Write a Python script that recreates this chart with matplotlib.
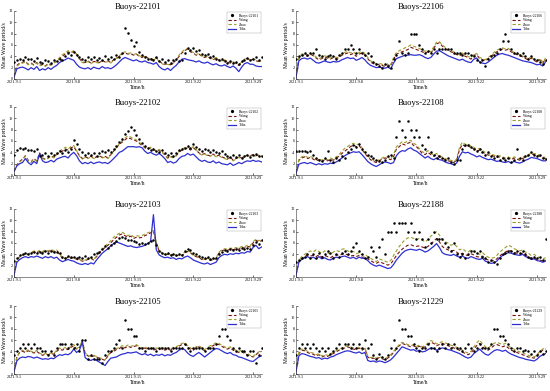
import numpy as np
import matplotlib
matplotlib.use("Agg")
import matplotlib.pyplot as plt

plt.rcParams['font.family'] = ['Liberation Serif', 'DejaVu Serif']

# 8-hourly samples, 2021.9.1 00:00 -> 2021.9.30 00:00
tick_days = [0, 7, 14, 21, 28]
tick_labels = ['2021.9.1', '2021.9.8', '2021.9.15', '2021.9.22', '2021.9.29']

# ---- Buoys-22101
obs_22101 = [3.0,3.4,3.6, 3.3,3.8,3.5, 3.6,3.2,3.7, 3.0,2.8,3.3, 3.1,2.9,3.4, 3.2,3.6,3.3,
             4.0,4.6,4.3, 4.8,4.2,3.8, 3.6,3.4,3.9, 3.5,3.8,3.3, 3.7,3.4,4.0, 3.6,3.9,3.5,
             4.2,3.8,4.6, 9.0,8.2,6.8, 5.8,6.6,4.8, 4.2,3.8,3.5, 3.6,3.3,3.8, 3.2,3.5,3.0,
             3.4,2.9,3.3, 3.6,3.1,3.4, 4.6,5.4,5.2, 5.4,4.9,5.2, 4.5,4.2,4.4, 3.8,4.1,3.6,
             3.3,3.6,3.1, 2.9,3.2,2.8, 3.0,2.7,3.2, 3.4,3.7,3.3, 3.6,3.9,3.4, 3.8]
wang_22101 = [0.5,2.4,2.8, 2.9,3.1,2.6, 2.8,2.5,2.9, 2.4,2.6,2.3, 2.7,2.5,2.9, 3.1,3.6,4.0,
              4.4,4.8,4.6, 4.9,4.3,3.6, 3.0,2.9,3.2, 2.8,3.1,3.0, 2.9,3.3,3.0, 3.2,2.9,3.4,
              3.6,4.0,4.4, 4.6,4.4,4.5, 4.2,4.4,4.0, 3.8,4.1,3.7, 3.6,3.4,3.8, 3.2,2.8,2.6,
              2.7,2.5,2.9, 3.3,4.0,4.6, 5.0,5.3,4.8, 4.6,4.2,4.4, 4.0,3.8,4.0, 3.6,3.4,3.7,
              3.3,3.1,3.3, 3.0,2.8,3.0, 2.7,2.4,2.9, 3.4,3.6,3.3, 3.5,3.2,3.1, 3.0]
zhao_22101 = [0.4,2.2,2.7, 2.8,3.0,2.5, 2.7,2.4,2.8, 2.3,2.5,2.2, 2.6,2.4,2.8, 3.2,3.8,4.3,
              4.6,5.0,4.7, 5.0,4.4,3.5, 2.9,2.8,3.1, 2.7,3.0,2.9, 2.8,3.2,2.9, 3.1,2.8,3.3,
              3.7,4.1,4.6, 4.8,4.5,4.6, 4.3,4.5,4.1, 3.9,4.0,3.6, 3.5,3.3,3.7, 3.1,2.7,2.5,
              2.6,2.4,2.8, 3.4,4.2,4.8, 5.2,5.4,4.9, 4.7,4.3,4.5, 4.1,3.9,4.1, 3.7,3.5,3.8,
              3.4,3.2,3.4, 3.1,2.9,3.1, 2.8,2.5,3.0, 3.5,3.7,3.4, 3.6,3.3,3.2, 3.1]
toba_22101 = [0.3,1.8,2.0, 2.1,1.9,1.6, 2.0,1.7,2.2, 1.5,1.8,1.6, 2.0,1.7,2.1, 2.4,2.9,3.2,
              3.4,3.7,3.5, 3.3,2.6,2.1, 1.9,1.8,2.0, 1.7,2.1,1.9, 1.8,2.2,1.9, 2.0,1.8,2.1,
              2.5,3.0,3.5, 3.8,3.6,3.4, 3.2,3.4,3.1, 3.0,3.2,2.9, 2.8,2.6,2.9, 2.2,1.8,1.6,
              1.9,1.5,2.0, 2.4,3.0,3.5, 3.6,3.4,3.3, 3.2,3.0,3.2, 2.9,2.8,3.0, 2.7,2.5,2.7,
              2.4,2.3,2.5, 2.2,2.0,2.3, 1.9,1.3,2.1, 2.7,2.9,2.6, 2.6,2.3,2.2, 2.2]

# ---- Buoys-22102
obs_22102 = [3.6,4.5,4.8, 4.6,4.8,4.4, 4.5,4.3,4.6, 3.3,3.6,3.8, 3.4,3.9,3.5, 3.8,4.2,3.9,
             4.4,4.0,4.6, 6.2,5.4,4.6, 4.0,3.6,3.9, 3.5,3.8,3.4, 3.9,4.3,4.0, 4.4,4.1,4.6,
             5.2,5.8,6.4, 7.2,7.8,8.4, 8.0,7.0,6.4, 5.6,5.2,4.8, 4.4,4.6,4.2, 4.0,4.4,3.8,
             3.6,3.9,3.4, 3.8,4.4,4.6, 4.8,5.2,4.7, 5.5,5.0,4.6, 4.2,4.6,4.4, 4.0,4.4,4.1,
             3.8,4.2,3.7, 3.4,3.1,3.6, 3.2,3.5,3.0, 3.3,3.6,3.2, 3.5,3.7,3.4, 3.3]
wang_22102 = [0.7,1.8,2.4, 2.8,3.4,2.6, 2.3,2.9,2.5, 3.9,3.0,2.8, 3.0,3.4,3.1, 3.6,4.0,4.2,
              4.6,4.4,4.8, 5.0,4.2,3.4, 2.9,3.2,3.0, 3.3,3.0,3.2, 3.4,3.1,3.3, 3.0,3.6,4.2,
              4.8,5.4,5.8, 6.2,6.6,6.4, 6.2,6.0,5.6, 5.2,4.8,4.6, 4.8,4.5,4.2, 4.4,4.0,3.6,
              3.0,3.3,3.1, 3.4,4.0,4.4, 4.6,4.8,4.4, 4.8,4.4,3.9, 3.6,3.8,3.5, 3.4,3.7,3.3,
              3.5,3.2,3.0, 2.8,3.2,2.6, 2.9,3.2,3.0, 3.3,3.5,3.4, 3.6,3.4,3.5, 3.3]
zhao_22102 = [0.6,1.7,2.3, 2.7,3.3,2.5, 2.2,2.8,2.4, 3.8,2.9,2.7, 2.9,3.3,3.0, 3.8,4.3,4.5,
              4.9,4.6,5.0, 5.2,4.3,3.3, 2.8,3.1,2.9, 3.2,2.9,3.1, 3.3,3.0,3.2, 2.9,3.5,4.1,
              4.9,5.5,6.0, 6.5,6.9,6.7, 6.4,6.2,5.8, 5.3,4.9,4.7, 4.9,4.6,4.3, 4.5,4.1,3.5,
              2.9,3.2,3.0, 3.5,4.2,4.6, 4.8,5.0,4.6, 5.0,4.5,3.8, 3.5,3.7,3.4, 3.3,3.6,3.2,
              3.4,3.1,2.9, 2.7,3.1,2.5, 2.8,3.1,2.9, 3.2,3.4,3.3, 3.5,3.3,3.4, 3.2]
toba_22102 = [0.6,1.6,2.0, 2.2,2.9,2.2, 1.8,2.4,2.0, 3.8,2.5,2.2, 2.3,2.6,2.3, 2.8,3.0,3.2,
              3.3,3.0,3.6, 4.0,3.4,2.5, 2.0,2.2,2.0, 2.3,2.0,2.2, 2.3,2.1,2.2, 2.0,2.4,2.9,
              3.4,4.0,4.2, 4.6,5.0,5.0, 5.0,4.9,5.0, 4.8,4.2,3.8, 4.0,3.7,3.5, 3.8,3.4,2.9,
              2.2,2.4,2.1, 2.3,2.9,3.3, 3.4,3.8,3.5, 3.7,3.2,2.7, 2.4,2.6,2.3, 2.2,2.5,2.1,
              2.3,2.0,1.9, 1.8,2.1,1.7, 1.9,2.2,2.0, 2.3,2.5,2.4, 2.6,2.4,2.5, 2.3]

# ---- Buoys-22103
obs_22103 = [2.9,3.3,3.8, 4.0,4.3,4.1, 4.3,4.5,4.2, 4.4,4.2,4.6, 4.3,4.6,4.4, 4.5,4.2,3.6,
             3.4,3.7,3.5, 3.6,3.3,3.5, 3.4,3.7,3.3, 3.6,4.0,4.3, 4.5,5.0,5.4, 5.2,5.6,6.0,
             6.4,6.9,7.1, 6.8,6.5,6.6, 6.3,6.1,5.9, 6.0,5.8,6.0, 6.3,6.6,5.6, 4.6,4.3,4.0,
             4.2,3.9,4.1, 3.8,4.1,3.9, 4.6,5.0,4.7, 4.2,4.0,3.7, 3.5,3.3,3.6, 3.2,3.4,3.3,
             4.0,4.5,4.7, 4.6,4.9,4.7, 5.0,4.8,5.1, 4.9,5.2,5.0, 5.6,6.2,5.8, 6.6]
wang_22103 = [0.3,3.0,3.6, 3.9,4.1,4.0, 4.2,4.4,4.3, 4.5,4.3,4.6, 4.5,4.7,4.4, 4.6,4.0,3.3,
              3.2,3.5,3.3, 3.4,3.1,3.0, 2.8,2.9,3.1, 3.3,3.0,3.6, 4.2,4.8,5.2, 5.6,6.0,6.6,
              7.0,7.4,7.6, 7.3,7.0,7.2, 6.8,7.0,6.9, 7.0,7.3,7.5, 7.8,8.1,6.0, 4.6,4.2,3.9,
              4.0,3.8,4.0, 3.7,3.9,3.8, 4.2,4.5,4.3, 3.8,3.6,3.4, 3.1,3.0,3.3, 2.9,3.1,3.2,
              4.2,4.6,4.8, 4.7,4.9,4.8, 5.0,4.9,5.2, 5.1,5.4,5.3, 6.0,6.5,6.2, 6.4]
zhao_22103 = [0.3,2.9,3.5, 3.8,4.2,4.1, 4.4,4.6,4.4, 4.7,4.5,4.8, 4.6,4.9,4.6, 4.8,4.1,3.4,
              3.3,3.6,3.4, 3.5,3.2,3.1, 2.9,3.0,3.2, 3.4,3.1,3.7, 4.4,5.0,5.5, 5.9,6.4,7.0,
              7.4,7.7,7.9, 7.6,7.3,7.5, 7.1,7.3,7.2, 7.3,7.6,7.8, 8.0,8.2,6.2, 4.7,4.3,4.0,
              4.1,3.9,4.1, 3.8,4.0,3.9, 4.4,4.7,4.4, 3.9,3.7,3.5, 3.2,3.1,3.4, 3.0,3.2,3.3,
              4.4,4.8,5.0, 4.9,5.1,5.0, 5.2,5.1,5.4, 5.3,5.6,5.5, 6.2,6.7,6.4, 6.6]
toba_22103 = [0.3,2.6,3.1, 3.4,3.6,3.4, 3.6,3.5,3.7, 3.5,3.3,3.6, 3.4,3.6,3.3, 3.5,3.0,2.7,
              2.9,3.1,2.9, 2.8,2.5,2.3, 2.2,2.4,2.2, 2.5,2.3,3.0, 3.6,4.2,4.6, 5.0,5.5,5.9,
              6.2,6.0,5.8, 5.6,5.4,5.5, 5.3,5.2,5.3, 5.4,5.6,5.9, 6.3,11.0,4.8, 3.9,3.6,3.4,
              3.5,3.3,3.4, 3.1,3.3,3.2, 3.5,3.7,3.4, 3.0,2.8,2.6, 2.4,2.3,2.5, 2.2,2.4,2.6,
              3.4,3.8,4.0, 3.9,4.1,4.0, 4.2,4.1,4.3, 4.2,4.5,4.4, 5.2,5.6,5.0, 5.3]

# ---- Buoys-22105
obs_22105 = [3.3,4.0,4.6, 5.3,4.6,5.3, 4.6,5.3,4.6, 4.6,4.0,4.0, 3.3,4.0,3.3, 4.6,5.3,5.3,
             5.3,4.6,5.3, 4.6,5.3,4.0, 6.0,6.0,2.7, 3.3,2.7,2.7, 2.7,2.0,3.3, 4.0,4.0,4.6,
             5.3,6.0,4.6, 9.5,8.0,8.0, 6.7,6.7,4.6, 4.6,4.0,4.6, 4.6,4.6,4.0, 4.6,4.6,4.6,
             4.6,4.0,4.6, 4.6,4.6,4.6, 5.3,4.6,4.0, 4.6,4.6,4.6, 4.6,4.0,4.6, 4.6,4.6,5.3,
             6.7,8.0,8.0, 6.7,6.0,4.6, 4.0,4.6,4.0, 4.0,3.3,4.0, 4.0,2.0,3.3, 4.6]
wang_22105 = [0.5,3.0,3.8, 4.0,3.8,4.1, 3.9,3.7,4.0, 3.6,3.3,3.5, 3.4,3.6,3.5, 4.0,4.4,4.2,
              4.5,4.3,4.7, 5.0,4.4,4.6, 5.8,3.6,3.2, 3.0,3.2,3.0, 2.8,2.6,2.4, 3.2,3.8,4.0,
              4.3,4.5,4.8, 4.6,4.9,4.7, 4.8,5.0,4.6, 4.4,4.6,4.3, 4.5,4.2,4.4, 4.3,4.5,4.2,
              4.4,4.2,4.5, 4.6,4.9,5.2, 5.3,4.8,4.4, 4.2,4.6,4.8, 4.4,4.1,4.5, 4.8,5.0,5.3,
              5.2,4.9,4.6, 4.4,4.6,4.2, 4.0,3.8,4.0, 3.6,3.4,3.2, 3.0,3.4,3.8, 4.0]
zhao_22105 = [0.4,2.9,3.9, 4.2,3.9,4.3, 4.0,3.8,4.2, 3.7,3.4,3.6, 3.5,3.7,3.6, 4.2,4.6,4.4,
              4.7,4.5,4.9, 5.2,4.5,4.8, 5.9,3.7,3.3, 3.1,3.3,3.1, 2.9,2.7,2.5, 3.3,3.9,4.2,
              4.5,4.7,5.0, 4.8,5.1,4.9, 5.0,5.2,4.8, 4.6,4.8,4.5, 4.7,4.4,4.6, 4.5,4.7,4.4,
              4.6,4.4,4.7, 4.8,5.1,5.4, 5.5,5.0,4.6, 4.4,4.8,5.0, 4.6,4.3,4.7, 5.0,5.2,5.5,
              5.4,5.1,4.8, 4.6,4.8,4.4, 4.2,4.0,4.2, 3.8,3.6,3.3, 3.1,3.5,3.9, 4.1]
toba_22105 = [0.4,2.3,2.8, 3.0,2.9,3.1, 3.0,2.8,3.0, 2.8,2.6,2.7, 2.6,2.8,2.7, 3.1,3.4,3.3,
              3.5,3.4,3.7, 4.4,3.8,4.2, 5.6,2.9,2.5, 2.4,2.6,2.4, 2.1,1.8,1.5, 2.2,2.8,2.9,
              3.0,3.3,3.5, 3.6,3.8,3.7, 3.8,3.9,3.6, 3.4,3.6,3.3, 3.5,3.2,3.4, 3.3,3.5,3.2,
              3.4,3.3,3.6, 3.8,4.2,4.5, 4.3,3.7,3.3, 3.1,3.5,3.8, 3.4,3.0,3.4, 3.8,4.2,4.5,
              4.4,4.1,3.8, 3.6,3.8,3.4, 3.3,3.0,2.9, 2.7,2.5,2.3, 2.2,2.6,3.0, 3.2]

# ---- Buoys-22106
obs_22106 = [3.6,4.0,4.3, 4.6,4.3,4.6, 4.6,5.3,4.3, 4.0,3.6,4.0, 4.3,4.0,3.6, 4.3,4.6,5.3,
             5.3,6.0,5.3, 4.6,5.3,4.6, 4.3,4.6,4.0, 3.0,2.7,2.3, 2.0,2.7,2.3, 2.0,3.6,4.3,
             6.7,4.6,4.3, 4.6,8.0,8.0, 8.0,6.0,5.3, 4.6,5.0,4.6, 5.3,4.6,5.3, 5.3,5.3,5.3,
             5.3,4.6,4.6, 4.6,4.3,4.6, 4.6,4.3,4.0, 3.3,3.0,3.3, 2.3,3.6,4.0, 4.3,4.6,5.3,
             6.7,8.0,6.7, 5.3,4.6,4.6, 4.3,4.6,4.0, 3.6,4.0,3.6, 3.3,3.0,2.7, 3.3]
wang_22106 = [0.4,3.6,4.2, 4.3,4.0,4.4, 4.1,3.7,3.4, 3.6,3.9,3.7, 3.5,3.8,3.6, 3.8,4.2,4.4,
              4.6,4.3,4.5, 4.0,4.4,4.6, 4.2,3.6,3.0, 2.7,2.5,2.6, 2.4,2.2,2.5, 2.3,3.5,4.4,
              4.6,4.8,5.0, 5.2,5.6,5.4, 5.2,5.0,4.8, 4.6,4.8,4.5, 5.4,6.2,6.4, 5.8,5.4,5.0,
              4.8,4.6,4.3, 4.1,4.4,4.0, 3.8,3.5,4.2, 4.3,3.6,3.4, 3.2,3.6,4.0, 4.4,4.8,5.0,
              5.3,5.1,5.2, 4.8,4.5,4.3, 4.1,3.9,3.6, 3.4,3.7,3.3, 3.0,3.4,2.8, 3.5]
zhao_22106 = [0.4,3.8,4.4, 4.5,4.2,4.6, 4.3,3.9,3.6, 3.8,4.1,3.9, 3.7,4.0,3.8, 4.0,4.5,4.7,
              4.9,4.6,4.8, 4.3,4.7,4.9, 4.5,3.8,3.2, 2.9,2.7,2.8, 2.6,2.4,2.7, 2.5,3.8,4.7,
              5.0,5.2,5.5, 5.7,6.0,5.8, 5.6,5.4,5.1, 4.9,5.1,4.8, 5.7,6.5,6.6, 6.0,5.6,5.2,
              5.0,4.8,4.5, 4.3,4.6,4.2, 4.0,3.7,4.4, 4.5,3.8,3.6, 3.4,3.8,4.2, 4.7,5.1,5.3,
              5.5,5.3,5.4, 5.0,4.7,4.5, 4.3,4.1,3.8, 3.6,3.9,3.5, 3.2,3.6,3.0, 3.7]
toba_22106 = [0.3,3.2,3.6, 3.7,3.5,3.7, 3.3,2.9,2.8, 3.0,3.2,3.0, 2.9,3.1,3.0, 3.1,3.4,3.6,
              3.8,3.6,3.7, 3.3,3.5,3.8, 3.4,2.8,2.4, 2.2,2.0,2.1, 2.0,1.9,2.1, 1.8,2.8,3.6,
              3.8,4.0,4.2, 4.2,4.3,4.2, 4.2,4.3,4.1, 3.8,3.6,3.8, 4.4,4.9,5.0, 4.7,4.4,4.1,
              3.9,3.7,3.5, 3.3,3.5,3.2, 3.0,2.9,3.5, 3.7,3.0,2.8, 2.7,3.0,3.4, 3.8,4.2,4.4,
              4.5,4.3,4.2, 4.0,3.8,3.6, 3.4,3.2,3.1, 3.0,2.9,2.7, 2.5,2.6,2.3, 3.0]

# ---- Buoys-22108
obs_22108 = [4.3,4.3,4.3, 4.3,4.0,4.3, 3.6,3.0,2.7, 2.5,3.0,4.3, 2.7,2.3,3.0, 2.7,3.3,3.0,
             4.0,4.6,5.3, 5.0,5.5,4.6, 4.0,3.6,3.3, 3.0,2.7,2.5, 2.3,2.7,3.3, 3.6,3.0,6.7,
             9.5,8.0,6.7, 9.5,8.0,6.7, 8.0,6.7,5.3, 4.6,6.7,4.0, 3.6,3.0,3.3, 3.0,2.7,3.0,
             2.3,2.0,2.7, 2.7,4.6,5.3, 5.3,5.0,4.6, 4.3,4.6,4.0, 3.6,4.0,3.3, 3.0,3.3,2.7,
             3.0,2.7,3.0, 2.3,2.7,4.6, 3.0,2.7,3.3, 3.6,4.0,3.6, 3.3,3.6,3.0, 2.8]
wang_22108 = [0.4,2.6,3.0, 3.2,2.9,3.1, 2.8,2.5,2.7, 2.4,2.7,2.5, 2.8,2.6,3.0, 3.3,3.8,4.2,
              4.6,5.0,5.3, 5.0,5.2,4.5, 3.8,3.2,2.7, 2.4,2.2,2.5, 2.8,3.0,2.9, 2.7,3.2,4.6,
              5.0,5.5,5.3, 5.6,5.8,5.2, 5.0,4.4,3.8, 3.6,4.0,3.6, 3.3,3.6,3.2, 3.0,2.7,2.5,
              2.4,2.2,2.6, 4.5,5.4,5.0, 5.2,4.8,4.6, 4.2,4.4,4.0, 3.8,3.5,3.6, 3.3,3.1,3.2,
              3.0,2.8,3.0, 2.7,3.0,2.8, 2.6,2.9,3.2, 3.4,3.7,3.6, 3.5,3.3,3.0, 2.9]
zhao_22108 = [0.3,2.8,3.2, 3.4,3.1,3.3, 3.0,2.7,2.9, 2.6,2.9,2.7, 3.0,2.8,3.2, 3.6,4.2,4.7,
              5.0,5.4,5.6, 5.3,5.5,4.8, 4.0,3.4,2.9, 2.6,2.4,2.7, 3.0,3.2,3.1, 2.9,3.5,5.0,
              5.4,5.9,5.7, 6.0,6.1,5.6, 5.3,4.7,4.1, 3.9,4.3,3.9, 3.5,3.8,3.4, 3.2,2.9,2.7,
              2.6,2.4,2.8, 4.9,5.8,5.4, 5.5,5.1,4.9, 4.5,4.7,4.3, 4.0,3.7,3.8, 3.5,3.3,3.4,
              3.2,3.0,3.2, 2.9,3.2,3.0, 2.8,3.1,3.4, 3.6,3.9,3.8, 3.7,3.5,3.2, 3.1]
toba_22108 = [0.3,1.9,2.1, 2.2,2.0,2.2, 2.0,1.8,2.0, 1.8,2.0,1.9, 2.1,2.0,2.3, 2.6,3.0,3.4,
              3.7,3.9,4.1, 4.0,4.1,3.6, 3.0,2.4,2.0, 1.7,1.5,1.8, 2.1,2.3,2.2, 2.0,2.2,3.4,
              4.0,4.3,4.2, 4.6,4.8,4.4, 4.2,3.8,3.4, 3.0,3.3,2.9, 2.7,3.0,2.7, 2.6,2.3,2.1,
              2.0,1.8,2.1, 3.3,4.1,3.9, 4.0,3.7,3.5, 3.2,3.4,3.1, 2.9,2.7,2.8, 2.6,2.4,2.5,
              2.3,2.2,2.4, 2.1,2.4,2.2, 2.1,2.3,2.6, 2.8,3.1,3.0, 2.9,2.7,2.5, 2.5]

# ---- Buoys-22188
obs_22188 = [2.7,3.0,3.3, 3.6,4.0,3.3, 4.0,3.3,4.3, 3.6,4.0,4.6, 4.3,3.3,4.0, 3.6,4.3,4.6,
             4.0,4.6,5.3, 6.0,4.6,4.0, 3.3,3.6,5.3, 4.6,3.6,5.3, 6.7,4.0,8.0, 8.0,9.5,8.0,
             9.5,9.5,9.5, 8.0,9.5,8.0, 6.7,8.0,6.7, 5.3,6.7,6.0, 8.0,6.7,6.7, 6.7,6.0,5.3,
             4.6,6.0,4.0, 3.6,4.0,3.3, 4.0,4.6,4.6, 4.3,4.6,3.6, 3.3,2.7,3.0, 2.7,2.3,3.3,
             4.0,4.3,4.6, 4.6,4.3,4.6, 4.3,4.6,4.0, 3.6,3.3,3.6, 3.3,3.6,3.0, 6.7]
wang_22188 = [0.4,2.8,3.3, 3.6,3.9,3.7, 3.8,3.6,3.9, 3.5,3.8,3.6, 3.4,3.7,3.9, 3.8,4.0,4.1,
              3.9,3.7,3.8, 3.6,3.8,3.5, 3.5,3.2,2.9, 2.6,2.4,2.7, 2.5,2.3,2.1, 2.3,3.0,3.8,
              4.4,4.9,5.3, 5.6,5.7,5.5, 5.4,5.5,5.3, 5.1,5.4,5.8, 6.3,6.8,6.2, 5.4,5.0,4.8,
              4.6,4.7,4.4, 4.0,4.2,3.9, 3.8,4.1,3.9, 3.6,3.5,3.7, 3.2,3.0,2.8, 2.9,3.2,3.7,
              4.1,4.4,4.7, 4.6,4.3,4.2, 4.0,4.2,3.8, 3.6,3.3,3.4, 3.1,3.0,2.8, 3.0]
zhao_22188 = [0.4,3.0,3.6, 4.0,4.3,4.6, 4.4,4.8,4.5, 4.2,4.6,4.3, 4.0,4.4,4.7, 4.5,4.9,5.0,
              4.6,4.4,4.5, 4.1,4.3,3.9, 4.0,3.6,3.3, 3.0,2.7,3.2, 3.0,2.8,2.6, 2.9,3.8,4.6,
              5.4,6.0,6.6, 6.9,7.0,6.8, 6.6,6.8,6.5, 6.2,6.6,7.2, 7.6,8.0,7.4, 6.6,6.2,6.0,
              5.6,5.8,5.4, 4.8,5.0,4.6, 4.4,4.8,4.5, 4.2,4.0,4.3, 3.8,3.5,3.3, 3.4,3.8,4.4,
              4.8,5.2,5.6, 5.4,5.0,4.8, 4.6,4.8,4.4, 4.2,3.8,4.0, 3.6,3.4,3.2, 3.4]
toba_22188 = [0.3,2.6,3.1, 3.4,3.6,3.3, 3.5,3.2,3.6, 3.2,3.4,3.1, 3.0,3.3,3.5, 3.4,3.6,3.7,
              3.5,3.3,3.5, 3.2,3.5,3.3, 3.3,2.9,2.4, 2.1,1.9,2.1, 1.9,1.7,1.5, 1.6,2.2,3.0,
              3.6,4.2,4.6, 4.8,4.9,4.8, 4.7,4.9,4.7, 4.4,4.6,5.0, 5.4,5.9,5.2, 4.3,4.0,3.9,
              3.8,4.0,3.7, 3.5,3.7,3.4, 3.3,3.6,3.4, 3.2,3.1,3.3, 2.8,2.6,2.4, 2.5,2.8,3.4,
              3.8,4.1,4.3, 4.2,4.0,3.9, 3.8,4.0,3.6, 3.4,3.1,3.2, 2.9,2.8,2.6, 2.8]

# ---- Buoys-21229
obs_21229 = [3.3,4.6,5.3, 4.6,5.3,4.6, 5.3,4.6,4.0, 4.6,4.0,4.6, 3.6,4.0,4.6, 5.3,4.6,5.3,
             5.3,4.6,5.3, 4.6,5.3,4.6, 6.0,4.6,5.3, 3.3,2.7,3.6, 3.0,2.7,3.3, 4.6,6.0,4.6,
             9.5,8.0,8.0, 6.7,6.7,5.3, 4.6,4.0,4.6, 4.6,5.3,4.6, 4.6,4.0,4.6, 5.3,4.6,5.3,
             4.6,5.3,4.6, 4.6,4.0,4.6, 5.3,4.6,4.0, 4.6,5.3,4.6, 4.6,4.6,5.3, 8.0,8.0,6.7,
             6.7,6.0,5.3, 4.6,4.0,4.6, 4.6,4.0,4.3, 4.0,3.6,4.0, 3.3,4.0,3.6, 4.0]
wang_21229 = [0.5,3.6,4.2, 4.1,3.8,3.6, 3.5,3.2,3.4, 3.0,3.2,3.1, 3.4,3.6,3.9, 4.2,4.4,4.6,
              4.8,4.6,4.4, 4.3,4.6,4.2, 4.5,3.0,2.7, 2.8,2.6,2.9, 2.7,2.5,2.8, 3.2,3.8,4.4,
              5.0,5.4,5.2, 5.0,4.8,5.0, 4.7,4.9,4.6, 4.8,5.2,5.6, 5.4,5.0,5.2, 5.4,5.2,5.0,
              4.8,4.6,4.4, 4.2,3.9,3.6, 3.4,3.7,4.4, 5.0,5.4,4.8, 4.4,4.2,4.6, 5.0,5.2,5.0,
              4.8,5.0,4.6, 4.2,4.0,3.8, 3.6,3.4,3.2, 3.0,2.9,2.8, 3.2,3.8,4.2, 4.4]
zhao_21229 = [0.4,3.8,4.4, 4.3,4.0,3.8, 3.7,3.4,3.6, 3.2,3.4,3.3, 3.6,3.8,4.1, 4.4,4.6,4.8,
              5.0,4.8,4.6, 4.5,4.8,4.4, 4.7,3.2,2.9, 3.0,2.8,3.1, 2.9,2.7,3.0, 3.4,4.0,4.6,
              5.2,5.6,5.4, 5.2,5.0,5.2, 4.9,5.1,4.8, 5.0,5.5,5.9, 5.7,5.3,5.5, 5.7,5.5,5.3,
              5.1,4.9,4.7, 4.5,4.2,3.9, 3.7,4.0,4.8, 5.5,6.0,5.3, 4.8,4.6,5.0, 5.4,5.6,5.4,
              5.2,5.4,5.0, 4.6,4.4,4.1, 3.9,3.7,3.5, 3.3,3.1,3.0, 3.4,4.0,4.4, 4.6]
toba_21229 = [0.4,3.2,3.6, 3.5,3.3,3.1, 3.0,2.8,2.9, 2.6,2.8,2.7, 3.0,3.1,3.4, 3.6,3.8,4.0,
              4.1,4.0,3.8, 3.7,3.9,3.6, 3.8,2.4,2.2, 2.3,2.1,2.3, 2.2,2.0,2.2, 2.5,3.0,3.6,
              4.2,4.8,4.6, 4.4,4.2,4.3, 4.0,4.2,3.9, 4.0,4.3,4.6, 4.5,4.2,4.4, 4.6,4.5,4.3,
              4.2,4.0,3.8, 3.6,3.3,3.0, 2.8,3.0,3.6, 4.0,4.4,3.9, 3.5,3.3,3.7, 4.1,4.3,4.2,
              4.0,4.2,3.8, 3.5,3.3,3.1, 2.9,2.8,2.6, 2.5,2.4,2.3, 2.6,3.1,3.4, 3.6]

# column-major order: left column top->bottom, right column top->bottom
panels = [
    ('22101', obs_22101, wang_22101, zhao_22101, toba_22101),
    ('22102', obs_22102, wang_22102, zhao_22102, toba_22102),
    ('22103', obs_22103, wang_22103, zhao_22103, toba_22103),
    ('22105', obs_22105, wang_22105, zhao_22105, toba_22105),
    ('22106', obs_22106, wang_22106, zhao_22106, toba_22106),
    ('22108', obs_22108, wang_22108, zhao_22108, toba_22108),
    ('22188', obs_22188, wang_22188, zhao_22188, toba_22188),
    ('21229', obs_21229, wang_21229, zhao_21229, toba_21229),
]

fig = plt.figure(figsize=(5.5, 3.91), dpi=100)

col_left = [14/550, 296/550]
col_width = [248/550, 250/550]
row_bottom_px = [79, 175, 277, 374]
ax_h = 68/391

for k, (name, obs, wang, zhao, toba) in enumerate(panels):
    col, row = divmod(k, 4)
    ax = fig.add_axes([col_left[col], 1 - row_bottom_px[row]/391, col_width[col], ax_h])
    t = np.arange(len(obs)) / 3.0

    ax.plot(t, obs, 'o', color='black', ms=1.8, mew=0, zorder=4, label='Buoys-' + name)
    ax.plot(t, wang, '--', color='#7a1010', lw=0.8, dashes=(3, 2), label='Wang')
    ax.plot(t, zhao, '--', color='#9c9c2a', lw=0.8, dashes=(3, 2), label='Zhao')
    ax.plot(t, toba, '-', color='#2f2fd0', lw=0.9, label='Toba')

    ax.set_xlim(0, 29.05)
    ax.set_ylim(0, 12)
    ax.set_yticks(range(0, 13, 2))
    ax.set_xticks(tick_days)
    ax.set_xticklabels(tick_labels)
    ax.tick_params(labelsize=3.1, length=1.5, width=0.4, direction='in', pad=1)
    for s in ['top', 'right']:
        ax.spines[s].set_visible(False)
    for s in ['left', 'bottom']:
        ax.spines[s].set_linewidth(0.4)
        ax.spines[s].set_color('#333333')

    ax.set_title('Buoys-' + name, fontsize=6.2, pad=1.5)
    ax.set_ylabel('Mean Wave period/s', fontsize=4.0, labelpad=1)
    ax.set_xlabel('Time/h', fontsize=4.0, labelpad=0.5)

    leg = ax.legend(loc='upper right', fontsize=2.7, frameon=True, fancybox=False,
                    borderpad=0.4, handlelength=2.2, labelspacing=0.15,
                    handletextpad=0.8, borderaxespad=0.3, markerscale=1.3)
    leg.get_frame().set_linewidth(0.3)
    leg.get_frame().set_edgecolor('#888888')

fig.savefig('out.png', dpi=100)
